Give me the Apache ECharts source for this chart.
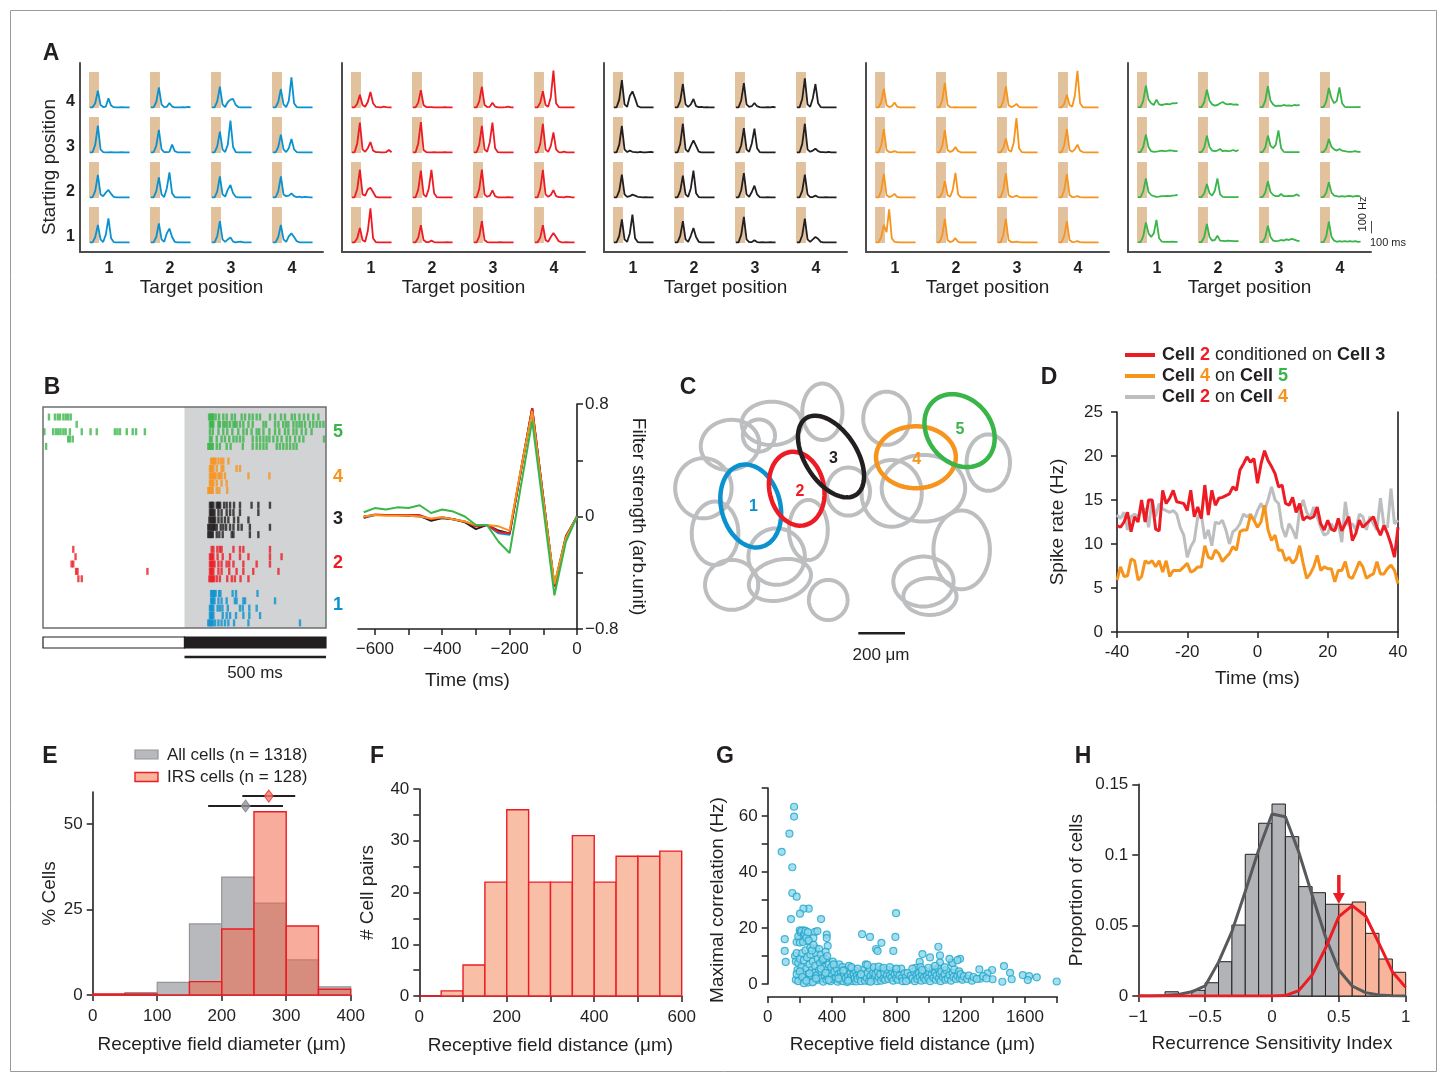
<!DOCTYPE html>
<html><head><meta charset="utf-8">
<script src="https://cdn.jsdelivr.net/npm/echarts@6/dist/echarts.min.js"></script>
<style>html,body{margin:0;padding:0;background:#fff}#c{width:1446px;height:1082px}</style>
</head><body><div id="c"></div>
<script>
// ================= DATA =================
// Panel A: mean response traces (Hz), 16 samples each; order row4 c1..c4, row3 ..., row1
const A_BLUE = [
 [6,6,40,145,25,8,12,80,20,7,6,6,7,6,6,6],[6,6,50,172,30,8,10,42,12,6,6,6,8,6,10,6],[6,6,55,178,30,8,50,70,75,25,8,6,6,6,6,6],[6,6,50,158,30,8,60,256,40,8,6,6,6,6,6,6],
 [6,6,70,228,30,8,6,6,8,6,6,6,8,6,6,6],[6,6,60,192,30,8,8,10,70,15,6,6,6,6,6,6],[6,6,55,178,30,8,70,270,50,8,6,6,6,6,6,6],[6,6,50,153,30,8,40,117,30,8,6,6,6,6,6,6],
 [6,6,60,192,30,15,45,67,35,10,6,6,6,6,6,6],[6,6,55,172,30,8,80,214,40,8,6,6,6,6,6,6],[6,6,55,181,30,12,70,108,40,10,6,6,6,6,6,6],[6,6,55,181,30,15,20,39,15,8,12,6,10,8,6,6],
 [6,6,50,150,30,8,70,206,40,8,6,6,6,6,6,6],[6,6,50,164,30,10,80,120,50,10,6,6,6,6,6,6],[6,6,55,183,30,10,30,45,12,6,10,12,6,6,6,6],[6,6,50,150,30,10,55,80,50,15,6,6,6,6,6,6]];
const A_RED = [
 [6,6,35,111,25,10,50,134,40,10,8,6,12,8,6,6],[6,6,45,149,25,8,8,8,6,6,6,6,8,6,6,6],[6,6,55,177,25,8,10,43,12,6,6,6,8,12,6,6],[6,6,45,140,25,10,90,312,40,8,6,6,6,6,6,6],
 [6,6,80,254,30,10,40,91,20,8,8,6,6,8,25,6],[6,6,80,257,25,8,6,6,8,6,6,6,8,6,6,6],[6,6,70,226,30,10,90,254,40,8,6,6,6,6,6,6],[6,6,75,243,30,10,60,171,30,8,6,12,6,6,6,6],
 [6,6,75,237,30,20,70,86,50,10,6,6,6,6,6,6],[6,6,70,229,30,10,80,234,40,8,6,6,6,6,6,6],[6,6,75,237,30,10,20,63,15,6,6,6,6,8,6,6],[6,6,75,234,30,10,25,66,15,8,8,6,12,10,6,6],
 [6,6,40,126,25,10,100,289,40,8,6,6,6,6,6,6],[6,6,45,149,25,8,8,20,8,6,6,6,6,8,6,6],[6,6,55,183,25,8,6,6,6,6,8,6,6,6,6,6],[6,6,45,149,25,10,50,83,50,15,6,6,8,6,6,6]];
const A_BLACK = [
 [6,6,70,233,30,10,100,139,80,15,6,6,6,6,6,6],[6,6,60,200,30,10,30,75,15,8,10,6,8,6,6,6],[6,6,65,208,30,10,15,42,15,8,6,6,8,6,10,6],[6,6,75,247,30,10,80,200,40,8,6,6,6,6,6,6],
 [6,6,70,225,30,8,20,10,8,6,10,6,6,8,10,6],[6,6,75,244,30,10,60,106,60,12,6,6,6,6,6,6],[6,6,65,208,30,10,80,203,40,8,6,6,6,6,6,6],[6,6,75,244,30,10,20,36,15,8,8,6,10,6,6,6],
 [6,6,60,194,30,10,15,28,20,10,8,6,8,6,6,6],[6,6,60,186,30,10,80,228,40,8,6,6,6,6,6,6],[6,6,65,208,30,10,50,103,30,8,6,6,8,6,6,6],[6,6,60,194,30,8,8,20,8,6,6,8,6,6,6,6],
 [6,6,60,197,30,10,80,236,40,8,6,6,6,6,6,6],[6,6,60,183,30,10,60,125,50,10,6,6,6,6,6,6],[6,6,70,217,30,8,8,22,8,6,8,6,6,8,6,6],[6,6,65,203,30,10,30,50,35,10,6,6,6,6,6,6]];
const A_ORANGE = [
 [6,6,50,160,25,8,15,45,12,6,6,6,6,6,6,6],[6,6,65,210,25,8,6,8,6,6,6,6,6,6,6,6],[6,6,55,180,25,8,15,35,10,6,6,6,6,6,6,6],[6,6,35,110,25,10,100,310,40,8,6,6,6,6,6,6],
 [6,6,65,200,25,8,8,15,8,6,6,6,6,6,6,6],[6,6,60,190,25,8,20,50,15,6,6,6,6,6,6,6],[6,6,40,120,25,10,90,290,40,8,6,6,6,6,6,6],[6,6,65,200,25,10,30,70,20,8,6,6,6,6,6,6],
 [6,6,65,200,25,8,15,35,10,6,6,6,6,6,6,6],[6,6,45,140,25,10,70,210,30,8,6,6,6,6,6,6],[6,6,65,205,25,8,10,20,8,6,6,6,6,6,6,6],[6,6,65,200,25,8,10,15,8,6,6,6,6,6,6,6],
 [6,6,50,150,90,280,40,10,8,6,6,6,6,6,6,6],[6,6,65,200,25,8,15,40,10,6,6,6,6,6,6,6],[6,6,65,200,25,8,8,12,8,6,6,6,6,6,6,6],[6,6,60,180,25,8,10,15,8,6,6,6,6,6,6,6]];
const A_GREEN = [
 [8,8,60,186,70,40,25,70,30,25,30,35,30,40,38,42],[8,8,50,153,60,30,20,25,40,50,35,30,35,28,30,25],[8,8,60,181,60,30,15,20,18,25,20,22,18,25,22,25],[8,8,55,167,80,40,60,172,40,10,8,8,8,8,8,10],
 [8,8,50,153,50,15,10,12,15,20,15,18,22,20,15,15],[8,8,45,145,50,20,15,20,33,15,20,15,18,25,15,25],[8,8,45,145,60,40,70,189,40,10,8,8,8,8,8,8],[8,8,40,117,50,30,20,33,20,15,12,10,12,15,10,10],
 [8,8,55,164,50,25,15,10,12,15,15,18,15,20,22,25],[8,8,40,117,40,20,60,164,30,10,8,8,8,8,8,10],[8,8,45,139,50,25,15,15,33,15,15,18,15,20,30,15],[8,8,45,131,45,20,15,12,15,12,15,18,12,15,18,12],
 [8,8,55,172,80,50,80,192,40,12,10,10,10,12,10,10],[8,8,50,158,50,20,25,61,20,18,15,20,18,15,15,15],[8,8,45,145,50,20,15,18,25,20,30,25,35,28,20,15],[8,8,55,178,50,20,10,15,12,15,12,15,12,15,10,12]];
const A_TICKS = ['1','2','3','4'];

// Panel B raster: spike times (ms, stimulus at 500) per trial
const B_GREEN = [
 [21,42,52,60,72,81,89,98,587,591,595,599,602,610,622,637,649,667,678,702,714,729,741,755,767,802,820,841,855,879,890,906,922,937,955,973],
 [119,590,594,598,602,620,625,637,643,651,661,673,678,684,696,708,726,741,779,788,820,832,849,859,867,885,896,906,914,926,943,955,967,979,991],
 [5,36,46,54,62,72,80,95,137,168,190,254,263,272,296,317,329,360,590,600,620,637,651,669,690,708,720,737,755,764,779,800,820,835,855,867,885,896,914,929,949],
 [89,95,105,590,596,614,631,643,658,673,684,696,708,741,755,767,779,790,800,814,828,843,861,873,891,906,920,993],
 [11,584,588,592,596,600,614,625,649,663,706,741,755,767,779,790,826,837,849,861,873,885,896]];
const B_ORANGE = [
 [594,598,602,606,610,620,629,637,655],[590,594,598,602,614,631,637,684,696],[590,594,598,602,606,610,620,625,631,643,726,800],
 [590,594,598,602,614,631,649],[584,588,592,596,600,614,623,651]];
const B_BLACK = [
 [590,594,598,602,614,618,622,626,640,649,661,675,696,737,761,802],[590,594,598,602,606,620,631,649,661,673,696,761],
 [588,592,596,600,604,608,620,631,643,655,675,690,726],[584,588,592,596,600,604,608,614,628,637,647,661,673,690,702,731,802],
 [584,588,592,596,600,614,623,635,667,673,731,761]];
const B_RED = [
 [107,596,602,616,625,631,673,696,708,802],[115,590,594,598,602,617,635,661,696,726,802,843],
 [101,107,590,594,598,602,606,620,631,649,658,673,708,755,802],[117,122,369,590,594,598,602,620,631,658,684,708,743,832],
 [125,137,588,592,596,600,604,614,625,651,667,678,698,726]];
const B_BLUE = [
 [594,598,602,606,610,622,627,670,682,758],[594,598,602,606,620,631,649,678,684,708,714,820],
 [590,594,598,602,617,625,634,653,696,706,729,755],[590,594,598,602,635,649,661,682,708,729,767],
 [584,588,592,596,600,608,620,631,643,655,675,726,908]];

// Panel B filters
const B_FILTER_T = [-633,-600,-567,-533,-500,-467,-433,-400,-367,-333,-300,-267,-233,-200,-167,-133,-100,-67,-33,0];
const F_BLUE  = [-0.01,0.01,0.01,0.01,0.005,0,-0.02,-0.01,-0.02,-0.04,-0.07,-0.06,-0.12,-0.13,0.32,0.76,0.13,-0.5,-0.16,0];
const F_BLACK = [0,0.01,0.01,0.01,0.005,0.005,-0.03,-0.01,-0.02,-0.04,-0.09,-0.06,-0.1,-0.12,0.32,0.77,0.13,-0.49,-0.14,0];
const F_RED   = [-0.01,0.015,0.01,0.01,0.01,0.01,-0.02,-0.005,-0.02,-0.035,-0.07,-0.06,-0.11,-0.12,0.32,0.77,0.13,-0.5,-0.15,0];
const F_ORANGE= [0,0.01,0.005,0.005,0.005,0,-0.015,-0.005,-0.02,-0.035,-0.06,-0.06,-0.07,-0.1,0.33,0.75,0.12,-0.48,-0.15,0];
const F_GREEN = [0.03,0.06,0.05,0.065,0.06,0.08,0.025,0.05,0.035,0,-0.06,-0.06,-0.18,-0.26,0.21,0.68,0.06,-0.56,-0.18,0];

// Panel C: receptive field ellipses [cx, cy, rx, ry, rotation deg] in µm
const C_GRAY = [
 [696,179,86,121,0],[479,229,129,93,0],[424,281,69,69,0],[300,321,126,107,-10],[186,507,121,129,0],
 [236,700,100,136,0],[307,921,114,107,0],[500,800,121,121,0],[514,900,136,86,-15],[636,686,83,129,0],
 [721,986,83,86,0],[807,521,93,103,0],[971,207,100,114,0],[993,529,129,143,0],[1129,507,179,143,0],
 [1407,397,93,121,0],[1293,771,121,169,0],[1129,907,129,107,0],[1157,971,114,79,0]];
const C_CELLS = [
 [389,583,126,181,-15],[586,509,117,160,-12],[733,371,111,196,-33],[1097,374,171,133,0],[1284,260,136,169,-40]];
const C_LABELS = ['1','2','3','4','5'];
const C_LABEL_POS = [[400,586],[600,521],[743,379],[1100,386],[1286,254]];

// Panel D: conditioned spike rate (Hz), t = -40..40 ms
const D_RED = [12.1,11.9,12.5,13.6,11.4,13.1,12.5,15,12.5,15, 15,11.7,11.5,16.1,14.6,15.2,16.1,14.8,14.7,14.6,
 13.8,16.1,13.1,14.2,12.9,16.7,13.3,16.1,14.4,15.2, 15.3,15.5,15.7,16.5,16.1,18.4,19.1,19.9,19.3,19.7,
 16.9,19.1,20.6,19.5,18.8,18,16.5,16.7,14.6,14.4, 15.3,13.6,14.6,12.7,13.1,12.9,13.1,14.2,12.3,11.6,
 12.7,11.7,11.5,12.9,11.5,12.3,13.1,10.4,11.2,12.7, 11.9,12.3,12.7,13.1,11.9,11,12.1,11.2,10,8.5, 11.9];
const D_ORANGE = [5.9,7.4,6.3,6.4,8.3,8.1,5.9,6.3,8.1,7.8, 8.1,7.4,8.1,6.8,8.1,6.3,7,7,7,7.4,
 7.8,6.8,7,7.4,7.4,9.8,8.5,8.3,9.3,8.9, 8,8.5,8.9,9.7,9.3,11.4,11.6,11.6,13.3,12.7,
 11.9,12.5,14.4,11.6,10.4,11,9.3,9.3,8.1,8.5, 7.8,8.3,9.8,7.8,6.1,6.6,7.4,8.7,7,7.4,
 7.2,7.2,5.7,7,7,8,6.3,6.1,7,8, 7.4,6.1,6.4,6.6,8,6.6,6.6,7.2,7.6,7, 5.5];
const D_GRAY = [13.3,12.9,13.6,11.6,13.1,13.4,13.1,13.8,14,11.9, 15,13.1,14.6,14,13.8,13.6,13.8,13.4,11.9,11,
 8.5,9.7,10.4,13.1,13.4,10.6,11.6,9.8,12.5,12.3, 12.7,11.6,10,11.4,11.7,12.3,13.4,13.1,13.4,12.7,
 13.8,14.6,13.8,15,16.5,15,14.6,11.9,10.8,12.3, 11.6,10.6,13.8,15,13.6,12.9,14.2,13.1,11.9,11,
 11.2,12.3,11.6,12.3,10.2,14.8,12.1,12.3,11.6,13.4, 13.1,11.6,13.1,12.3,11.6,15.2,12.1,11.9,16.3,12.3, 12.7];

// Panel E: % cells per 50 µm bin
const E_BIN_LEFT = [0,50,100,150,200,250,300,350];
const E_ALL = [0.2,0.7,3.7,20.8,34.5,26.9,10.3,2.4];
const E_IRS = [0.3,0.3,0,3.9,19.3,53.6,20.2,1.7];
const E_MEAN_ALL = [237,179,295,55.3];   // mean, low, high, drawn at height
const E_MEAN_IRS = [273,232,314,58.2];

// Panel F: # cell pairs per 50 µm bin
const F_BIN_LEFT = [0,50,100,150,200,250,300,350,400,450,500,550];
const F_COUNTS = [0,1,6,22,36,22,22,31,22,27,27,28];

// Panel G: [distance µm, maximal correlation Hz]
const G_POINTS = [
 [87,47.2],[135,53.7],[164,63.3],[164,59.8],[153,41.7],[153,32.5],[180,31.2],[145,23.2],[332,23.2],[106,16],[106,11.8],[112,7.9],
 [195,16],[199,19.2],[222,19.2],[222,15.9],[255,26.9],[222,26.9],[201,25.1],[294,18.6],[309,18.9],[247,15.4],[284,16.4],[301,12.7],
 [367,17.6],[367,16.4],[373,13.6],[587,17.8],[636,16.8],[707,14.7],[674,12.5],[683,11.8],[798,25.3],[794,16.8],[781,11.8],[962,10.7],
 [1009,9.5],[1061,13.3],[1071,10.2],[1071,7.6],[1196,9],[1144,7.6],[1469,6.4],[1507,4],[1517,1.7],[1586,3.2],[1625,2.8],[1673,2.4],
 [1797,0.9],[1459,0.8],[1617,1.4],[1395,5],[1316,5.2],[1366,3.8],[1398,1.7],[1320,1.9],[945,7.9],
 [170,10],[175,8],[180,11],[185,5],[190,7.5],[195,3],[200,9],[205,1.5],[210,6],[215,11],[220,4],[225,8.5],[230,2],[235,12],[240,5.5],
 [245,9.5],[250,0.5],[255,3.5],[260,7],[265,10.5],[270,2.5],[275,5],[280,8],[285,1],[290,4],[295,6.5],[300,11],[305,3],[310,9],
 [315,1.5],[320,5],[325,7.5],[330,2],[335,4.5],[340,8.5],[345,0.8],[350,6],[355,3],[360,9],[365,1.5],[370,5],[375,2.5],[380,7],
 [385,4],[390,1],[395,6],[400,3],[405,8],[410,1.8],[415,4.5],[420,6.5],[425,2.2],[430,5.5],[435,0.8],[440,3.5],[445,7],[450,1.5],
 [455,4],[460,2.8],[465,6],[470,1],[475,3.2],[480,5],[485,2],[490,4.5],[495,0.7],[500,3],[505,6.5],[510,1.5],[515,4],[520,2.5],
 [525,5.5],[530,1],[535,3.5],[540,2],[545,4.8],[550,0.9],[555,3],[560,1.8],[570,4.2],[575,2.5],[580,1],[590,5],[600,3],[605,1.2],
 [610,7],[615,2.2],[620,4],[630,1],[635,5.5],[640,2.8],[650,1.5],[655,4],[660,6],[665,2],[670,3.5],[680,1],[685,4.5],[690,2.5],
 [700,3.5],[705,1.2],[710,5.5],[720,2],[725,4],[730,1.5],[740,3],[745,5],[750,1.8],[760,3.2],[770,2.2],[775,4.5],[780,1.2],[790,3.5],
 [795,5.2],[800,2],[805,4],[810,1.5],[820,3],[830,5.5],[835,2.2],[840,1],[850,3.8],[860,2.5],[870,4],[880,1.5],[890,3],[900,2],
 [910,4.5],[915,1],[920,5.8],[925,3],[930,1.8],[940,4],[945,2.5],[950,6],[955,1.2],[960,3.5],[970,2.2],[975,4.8],[980,1.5],[990,3],
 [1000,2],[1005,4.2],[1010,1],[1020,3.5],[1025,5.2],[1030,2.2],[1040,4],[1045,1.5],[1050,3],[1060,5.5],[1065,2],[1070,3.8],[1075,1],
 [1080,4.5],[1090,2.5],[1100,3.5],[1105,1.5],[1110,5],[1120,2],[1130,3.2],[1140,1.2],[1150,4],[1155,2.5],[1160,5.2],[1170,1.8],
 [1180,3],[1190,4.5],[1195,2],[1200,3.5],[1210,1.5],[1220,2.8],[1240,1.8],[1250,3],[1270,1.2],[1280,2.5],[1300,1.8],[1340,2.8],[1360,2],
 [180,15],[190,17],[200,14.8],[205,18.5],[210,19],[220,15],[225,17.5],[230,18],[235,19],[240,16.5],[250,18.5],[255,15.5],[265,13],
 [275,12],[285,14],[320,12.5],[330,10.5],[345,9],[360,11.5],[370,10],[175,1.5],[180,3.5],[190,1],[200,4.5],[215,2.5],[225,0.3],
 [240,1.2],[260,3.8],[280,0.6],[300,2],[330,5.5],[360,4],[380,1.5],[410,7],[440,2],[470,4.8],[500,1.2],[520,6],[560,5.5],[580,3.5],
 [620,6.8],[640,0.8],[690,6.2],[720,5.8],[760,6],[800,5.5],[860,1],[900,5.5],[960,5],[1000,5.8],[1040,6.5],[1100,6],[1150,7.5],[1180,8.5],[1130,9]];

// Panel H: proportion of cells per 0.1 RSI bin
const H_BIN_LEFT = [-0.8,-0.7,-0.6,-0.5,-0.4,-0.3,-0.2,-0.1,0,0.1,0.2,0.3,0.4,0.5,0.6,0.7,0.8,0.9];
const H_PROP = [0.003,0,0.004,0.0094,0.0243,0.0503,0.1004,0.1224,0.136,0.1129,0.0775,0.0732,0.065,0.065,0.0666,0.0444,0.0262,0.0168];
const H_THRESHOLD = 0.5;
const H_ARROW = [0.0857, 0.0652];   // arrow from / to (proportion)
const H_FIT_X = [-1,-0.9,-0.8,-0.7,-0.6,-0.5,-0.4,-0.3,-0.2,-0.1,0,0.1,0.2,0.3,0.4,0.5,0.6,0.7,0.8,0.9,1];
const H_FIT_ALL = [0,0,0.0003,0.001,0.003,0.0071,0.024,0.0456,0.074,0.1035,0.129,0.127,0.102,0.0716,0.042,0.0184,0.0071,0.0024,0.0007,0.0002,0];
const H_FIT_IRS = [0,0,0,0,0,0,0,0,0,0,0,0.0003,0.0038,0.0149,0.0338,0.0562,0.064,0.0567,0.0373,0.0172,0.0061];

// ================= STYLE / HELPERS =================
const FONT = '"Liberation Sans", Arial, Helvetica, sans-serif';
const INK = '#231f20';
const C_BLUE = '#0a92cf', C_RED = '#ed1c24', C_BLACK = '#231f20', C_ORANGE = '#f7941d', C_GREEN = '#39b54a';
const CELL_COLORS = [C_BLUE, C_RED, C_BLACK, C_ORANGE, C_GREEN];

function merge(a, b) {
  const o = Object.assign({}, a);
  for (const k in b) {
    const v = b[k];
    if (v && typeof v === 'object' && !Array.isArray(v) && o[k] && typeof o[k] === 'object' && !Array.isArray(o[k])) o[k] = merge(o[k], v);
    else o[k] = v;
  }
  return o;
}
const grid = [], xAxis = [], yAxis = [], series = [], graphic = [];
function vAxis(gi, opt) {
  return merge({
    gridIndex: gi, type: 'value', splitLine: { show: false },
    axisLine: { show: true, onZero: false, lineStyle: { color: INK, width: 1.6 } },
    axisTick: { show: true, inside: false, length: 6, lineStyle: { color: INK, width: 1.5 } },
    axisLabel: { color: INK, fontSize: 17, fontFamily: FONT, margin: 10, formatter: v => String(v) },
    nameLocation: 'middle', nameTextStyle: { color: INK, fontSize: 19, fontFamily: FONT }
  }, opt);
}
function hidden(gi, opt) { return Object.assign({ gridIndex: gi, type: 'value', show: false, splitLine: { show: false } }, opt); }
function txt(x, y, text, o) {
  o = o || {};
  const style = { text: text, fill: o.color || INK, fontSize: o.size || 17, fontFamily: FONT, fontWeight: o.bold ? 'bold' : 'normal', align: o.align || 'center', verticalAlign: o.va || 'middle' };
  if (o.rich) style.rich = o.rich;
  graphic.push({ type: 'text', x: x, y: y, rotation: o.rot || 0, z: 100, style: style });
}
const minus = v => (v < 0 ? '\u2212' + Math.abs(v) : String(v));

// ================= PANEL A =================
const A_GROUPS = [A_BLUE, A_RED, A_BLACK, A_ORANGE, A_GREEN];
const A_DT = 22, A_X0 = 75, A_COL = 508.33, A_Y0 = 75, A_ROW = 375, A_SHADE_W = 83, A_SHADE_H = 300;
A_GROUPS.forEach((grp, g) => {
  const gi = grid.length;
  grid.push({ left: 80 + 262 * g, top: 63, width: 243, height: 189 });
  const xi = xAxis.length, yi = yAxis.length;
  xAxis.push(vAxis(gi, {
    min: 0, max: 2025, axisTick: { show: false }, axisLine: { lineStyle: { color: '#4d4d4f', width: 2 } },
    axisLabel: { customValues: A_TICKS.map((t, c) => A_X0 + 167 + c * A_COL), formatter: v => A_TICKS[Math.round((v - A_X0 - 167) / A_COL)], fontWeight: 'bold', fontSize: 16, margin: 9 },
    name: 'Target position', nameGap: 25, nameTextStyle: { fontSize: 19 }
  }));
  yAxis.push(vAxis(gi, {
    min: 0, max: 1575, axisTick: { show: false }, axisLine: { lineStyle: { color: '#4d4d4f', width: 2 } },
    axisLabel: g === 0 ? { customValues: A_TICKS.map((t, r) => A_Y0 + 50 + r * A_ROW), formatter: v => A_TICKS[Math.round((v - A_Y0 - 50) / A_ROW)], fontWeight: 'bold', fontSize: 16, margin: 5 } : { show: false }
  }));
  const shades = [], line = [];
  grp.forEach((tr, i) => {
    const r = 3 - Math.floor(i / 4), c = i % 4;
    const xs = A_X0 + c * A_COL, base = A_Y0 + r * A_ROW;
    shades.push([xs, base]);
    tr.forEach((v, k) => line.push([xs + 8 + k * A_DT, base + v]));
    line.push(['-', '-']);
  });
  series.push({
    type: 'custom', xAxisIndex: xi, yAxisIndex: yi, z: 1, silent: true, data: shades,
    renderItem: (p, api) => {
      const p0 = api.coord([api.value(0), api.value(1)]);
      const p1 = api.coord([api.value(0) + A_SHADE_W, api.value(1) + A_SHADE_H]);
      return { type: 'rect', shape: { x: p0[0], y: p1[1], width: p1[0] - p0[0], height: p0[1] - p1[1] }, style: { fill: '#e2c19d' } };
    }
  });
  series.push({ type: 'line', xAxisIndex: xi, yAxisIndex: yi, z: 3, data: line, showSymbol: false, connectNulls: false, silent: true,
    lineStyle: { color: CELL_COLORS[g], width: 1.8 } });
  if (g === 4) {
    series.push({ type: 'line', xAxisIndex: xi, yAxisIndex: yi, z: 3, clip: false, silent: true, showSymbol: false,
      data: [[2035, 258], [2035, 158], [2135, 158]], lineStyle: { color: INK, width: 2 } });
  }
});
txt(50, 167, 'Starting position', { size: 19, rot: Math.PI / 2 });
txt(1363, 214, '100 Hz', { size: 11, rot: Math.PI / 2 });
txt(1388, 243, '100 ms', { size: 11 });

// ================= PANEL B raster =================
{
  const gi = grid.length;
  grid.push({ left: 43, top: 407, width: 283, height: 221 });
  const xi = xAxis.length, yi = yAxis.length;
  xAxis.push(hidden(gi, { min: 0, max: 1000 }));
  yAxis.push(hidden(gi, { min: -1.36, max: 28.7, inverse: true }));
  series.push({ type: 'custom', xAxisIndex: xi, yAxisIndex: yi, z: 1, silent: true, data: [[500, 0]],
    renderItem: (p, api) => {
      const cs = p.coordSys; const x0 = api.coord([api.value(0), 0])[0];
      return { type: 'rect', shape: { x: x0, y: cs.y, width: cs.x + cs.width - x0, height: cs.height }, style: { fill: '#d1d3d4' } };
    } });
  const groups = [[B_GREEN, C_GREEN, 0], [B_ORANGE, C_ORANGE, 6], [B_BLACK, C_BLACK, 12], [B_RED, C_RED, 18], [B_BLUE, C_BLUE, 24]];
  groups.forEach(([trials, col, row0]) => {
    const d = [];
    trials.forEach((tr, j) => tr.forEach(t => d.push([t, row0 + j])));
    series.push({ type: 'scatter', xAxisIndex: xi, yAxisIndex: yi, z: 3, silent: true, data: d, symbol: 'rect', symbolSize: [2.4, 7], itemStyle: { color: col } });
  });
  series.push({ type: 'custom', xAxisIndex: xi, yAxisIndex: yi, z: 5, silent: true, data: [[0, 0]],
    renderItem: (p) => { const cs = p.coordSys; return { type: 'rect', shape: { x: cs.x, y: cs.y, width: cs.width, height: cs.height }, style: { fill: 'none', stroke: '#6d6e71', lineWidth: 1.5 } }; } });
  // stimulus bar + scale bar
  const g2 = grid.length;
  grid.push({ left: 43, top: 633, width: 283, height: 30 });
  const x2 = xAxis.length, y2 = yAxis.length;
  xAxis.push(hidden(g2, { min: 0, max: 1000 }));
  yAxis.push(hidden(g2, { min: 0, max: 30, inverse: true }));
  series.push({ type: 'custom', xAxisIndex: x2, yAxisIndex: y2, silent: true, data: [[0, 500, 0], [500, 1000, 1]],
    renderItem: (p, api) => {
      const a = api.coord([api.value(0), 4]), b = api.coord([api.value(1), 15]);
      return { type: 'rect', shape: { x: a[0], y: a[1], width: b[0] - a[0], height: b[1] - a[1] }, style: { fill: api.value(2) ? INK : '#fff', stroke: INK, lineWidth: 1.2 } };
    } });
  series.push({ type: 'line', xAxisIndex: x2, yAxisIndex: y2, silent: true, showSymbol: false, data: [[500, 24], [1000, 24]], lineStyle: { color: INK, width: 2.5 } });
  txt(255, 673, '500 ms', { size: 17 });
  [['5', C_GREEN, 432], ['4', C_ORANGE, 477], ['3', C_BLACK, 519], ['2', C_RED, 563], ['1', C_BLUE, 605]].forEach(([t, c, y]) => txt(338, y, t, { color: c, bold: true, size: 18 }));
}

// ================= PANEL B filters =================
{
  const gi = grid.length;
  grid.push({ left: 358, top: 404, width: 219, height: 225 });
  const xi = xAxis.length, yi = yAxis.length;
  xAxis.push(vAxis(gi, { min: -650, max: 0, axisTick: { customValues: [-600, -500, -400, -300, -200, -100, 0] },
    axisLabel: { customValues: [-600, -400, -200, 0], formatter: minus, margin: 12 }, name: 'Time (ms)', nameGap: 42 }));
  yAxis.push(vAxis(gi, { min: -0.8, max: 0.8, position: 'right', axisTick: { customValues: [-0.8, -0.4, 0, 0.4, 0.8] },
    axisLabel: { customValues: [-0.8, 0, 0.8], formatter: minus, margin: 8 }, name: 'Filter strength (arb.unit)', nameRotate: -90, nameGap: 52 }));
  [[F_BLUE, C_BLUE], [F_BLACK, C_BLACK], [F_RED, C_RED], [F_ORANGE, C_ORANGE], [F_GREEN, C_GREEN]].forEach(([vals, col]) => {
    series.push({ type: 'line', xAxisIndex: xi, yAxisIndex: yi, silent: true, showSymbol: false, data: B_FILTER_T.map((t, i) => [t, vals[i]]), lineStyle: { color: col, width: 2 } });
  });
}

// ================= PANEL C =================
{
  const gi = grid.length;
  grid.push({ left: 660, top: 370, width: 360, height: 310 });
  const xi = xAxis.length, yi = yAxis.length;
  xAxis.push(hidden(gi, { min: 0, max: 1543 }));
  yAxis.push(hidden(gi, { min: 0, max: 1329, inverse: true }));
  const ell = (colorFn, lw) => (p, api) => {
    const c = api.coord([api.value(0), api.value(1)]);
    const s = api.size([api.value(2), api.value(3)]);
    const a = api.value(4) * Math.PI / 180, pts = [];
    for (let k = 0; k < 90; k++) {
      const t = k / 90 * 2 * Math.PI, x = s[0] * Math.cos(t), y = s[1] * Math.sin(t);
      pts.push([c[0] + x * Math.cos(a) - y * Math.sin(a), c[1] + x * Math.sin(a) + y * Math.cos(a)]);
    }
    return { type: 'polygon', shape: { points: pts }, style: { fill: 'none', stroke: colorFn(p.dataIndex), lineWidth: lw } };
  };
  series.push({ type: 'custom', xAxisIndex: xi, yAxisIndex: yi, z: 2, silent: true, data: C_GRAY, renderItem: ell(() => '#bcbec0', 4) });
  series.push({ type: 'custom', xAxisIndex: xi, yAxisIndex: yi, z: 3, silent: true, data: C_CELLS, renderItem: ell(i => CELL_COLORS[i], 4.5) });
  series.push({ type: 'custom', xAxisIndex: xi, yAxisIndex: yi, z: 4, silent: true, data: C_LABEL_POS,
    renderItem: (p, api) => { const c = api.coord([api.value(0), api.value(1)]);
      return { type: 'text', x: c[0], y: c[1], style: { text: C_LABELS[p.dataIndex], fill: CELL_COLORS[p.dataIndex], fontSize: 16, fontWeight: 'bold', fontFamily: FONT, align: 'center', verticalAlign: 'middle' } }; } });
  series.push({ type: 'line', xAxisIndex: xi, yAxisIndex: yi, silent: true, showSymbol: false, data: [[850, 1129], [1050, 1129]], lineStyle: { color: INK, width: 2.5 } });
  txt(881, 655, '200 \u03bcm', { size: 17 });
}

// ================= PANEL D =================
{
  const gi = grid.length;
  grid.push({ left: 1117, top: 412, width: 281, height: 220 });
  const xi = xAxis.length, yi = yAxis.length;
  xAxis.push(vAxis(gi, { min: -40, max: 40, interval: 20, axisLabel: { margin: 12 }, name: 'Time (ms)', nameGap: 37 }));
  yAxis.push(vAxis(gi, { min: 0, max: 25, interval: 5, axisLabel: { margin: 14 }, name: 'Spike rate (Hz)', nameGap: 50 }));
  yAxis.push(vAxis(gi, { min: 0, max: 25, position: 'right', axisTick: { show: false }, axisLabel: { show: false } }));
  const T = []; for (let t = -40; t <= 40; t++) T.push(t);
  [[D_GRAY, '#bcbec0'], [D_ORANGE, C_ORANGE], [D_RED, C_RED]].forEach(([vals, col]) => {
    series.push({ type: 'line', xAxisIndex: xi, yAxisIndex: yi, silent: true, showSymbol: false, data: T.map((t, i) => [t, vals[i]]), lineStyle: { color: col, width: 3 } });
  });
  const fs = 18;
  const rich = { b: { fontWeight: 'bold', fontSize: fs, fontFamily: FONT, fill: INK }, r: { fontWeight: 'bold', fontSize: fs, fontFamily: FONT, fill: C_RED },
    o: { fontWeight: 'bold', fontSize: fs, fontFamily: FONT, fill: C_ORANGE }, g: { fontWeight: 'bold', fontSize: fs, fontFamily: FONT, fill: C_GREEN }, n: { fontSize: fs, fontFamily: FONT, fill: INK } };
  [[355, C_RED, '{b|Cell} {r|2} {n|conditioned on} {b|Cell 3}'], [376, C_ORANGE, '{b|Cell} {o|4} {n|on} {b|Cell} {g|5}'], [397, '#bcbec0', '{b|Cell} {r|2} {n|on} {b|Cell} {o|4}']].forEach(([y, col, t]) => {
    graphic.push({ type: 'line', shape: { x1: 1125, y1: y, x2: 1155, y2: y }, style: { stroke: col, lineWidth: 4 } });
    txt(1162, y, t, { align: 'left', rich: rich, size: fs });
  });
}

// ================= PANEL E =================
function histRender(fill, stroke, lw, width) {
  return (p, api) => {
    const a = api.coord([api.value(0), 0]), b = api.coord([api.value(0) + width, api.value(1)]);
    return { type: 'rect', shape: { x: a[0], y: b[1], width: b[0] - a[0], height: a[1] - b[1] }, style: { fill: fill, stroke: stroke, lineWidth: lw } };
  };
}
{
  const gi = grid.length;
  grid.push({ left: 92.7, top: 792, width: 258, height: 203 });
  const xi = xAxis.length, yi = yAxis.length;
  xAxis.push(vAxis(gi, { min: 0, max: 400, axisTick: { customValues: [0, 100, 200, 300, 400] }, axisLabel: { customValues: [0, 100, 200, 300, 400], margin: 13 }, name: 'Receptive field diameter (\u03bcm)', nameGap: 40 }));
  yAxis.push(vAxis(gi, { min: 0, max: 59.4, axisTick: { customValues: [0, 25, 50] }, axisLabel: { customValues: [0, 25, 50], margin: 10 }, name: '% Cells', nameGap: 33 }));
  series.push({ type: 'custom', xAxisIndex: xi, yAxisIndex: yi, z: 2, silent: true, data: E_BIN_LEFT.map((x, i) => [x, E_ALL[i]]), renderItem: histRender('#b7b9bc', '#939598', 1.2, 50) });
  series.push({ type: 'custom', xAxisIndex: xi, yAxisIndex: yi, z: 3, silent: true, data: E_BIN_LEFT.map((x, i) => [x, E_IRS[i]]), renderItem: histRender('rgba(242,105,75,0.55)', C_RED, 1.4, 50) });
  [[E_MEAN_ALL, '#939598', '#7f8184'], [E_MEAN_IRS, '#f47a6a', C_RED]].forEach(([m, fill, st]) => {
    series.push({ type: 'line', xAxisIndex: xi, yAxisIndex: yi, z: 4, silent: true, showSymbol: false, clip: false, data: [[m[1], m[3]], [m[2], m[3]]], lineStyle: { color: INK, width: 2 } });
    series.push({ type: 'scatter', xAxisIndex: xi, yAxisIndex: yi, z: 5, silent: true, clip: false, data: [[m[0], m[3]]], symbol: 'diamond', symbolSize: [9, 12], itemStyle: { color: fill, borderColor: st, borderWidth: 1 } });
  });
  graphic.push({ type: 'rect', shape: { x: 135, y: 750, width: 23, height: 9 }, style: { fill: '#b7b9bc', stroke: '#939598', lineWidth: 1.2 } });
  graphic.push({ type: 'rect', shape: { x: 135, y: 772.5, width: 23, height: 9 }, style: { fill: '#f7b59b', stroke: C_RED, lineWidth: 1.4 } });
  txt(167, 755, 'All cells (n = 1318)', { align: 'left', size: 17 });
  txt(167, 777, 'IRS cells (n = 128)', { align: 'left', size: 17 });
}

// ================= PANEL F =================
{
  const gi = grid.length;
  grid.push({ left: 419.3, top: 789, width: 262.4, height: 207 });
  const xi = xAxis.length, yi = yAxis.length;
  xAxis.push(vAxis(gi, { min: 0, max: 600, axisTick: { customValues: [0, 100, 200, 300, 400, 500, 600] }, axisLabel: { customValues: [0, 200, 400, 600], margin: 13 }, name: 'Receptive field distance (\u03bcm)', nameGap: 40 }));
  yAxis.push(vAxis(gi, { min: 0, max: 40, axisTick: { customValues: [0, 5, 10, 15, 20, 25, 30, 35, 40] }, axisLabel: { customValues: [0, 10, 20, 30, 40], margin: 10 }, name: '# Cell pairs', nameGap: 42 }));
  series.push({ type: 'custom', xAxisIndex: xi, yAxisIndex: yi, z: 2, silent: true, data: F_BIN_LEFT.map((x, i) => [x, F_COUNTS[i]]), renderItem: histRender('#f8bea6', C_RED, 1.4, 50) });
}

// ================= PANEL G =================
{
  const gi = grid.length;
  grid.push({ left: 767.7, top: 788, width: 289.5, height: 196 });
  const xi = xAxis.length, yi = yAxis.length;
  xAxis.push(vAxis(gi, { min: 0, max: 1800, offset: 13, axisTick: { customValues: [0, 200, 400, 600, 800, 1000, 1200, 1400, 1600, 1800] }, axisLabel: { customValues: [0, 400, 800, 1200, 1600], margin: 12 }, name: 'Receptive field distance (\u03bcm)', nameGap: 38 }));
  yAxis.push(vAxis(gi, { min: 0, max: 70, axisTick: { customValues: [0, 10, 20, 30, 40, 50, 60, 70] }, axisLabel: { customValues: [0, 20, 40, 60], margin: 10 } }));
  series.push({ type: 'scatter', xAxisIndex: xi, yAxisIndex: yi, silent: true, clip: false, data: G_POINTS, symbol: 'circle', symbolSize: 7, itemStyle: { color: '#8fd6ea', borderColor: '#1ea6cc', borderWidth: 1.2 } });
  txt(718, 900, 'Maximal correlation (Hz)', { size: 19, rot: Math.PI / 2 });
}

// ================= PANEL H =================
{
  const gi = grid.length;
  grid.push({ left: 1138.3, top: 784.3, width: 267.4, height: 211.7 });
  const xi = xAxis.length, yi = yAxis.length;
  xAxis.push(vAxis(gi, { min: -1, max: 1, axisTick: { customValues: [-1, -0.5, 0, 0.5, 1] }, axisLabel: { customValues: [-1, -0.5, 0, 0.5, 1], formatter: minus, margin: 13 }, name: 'Recurrence Sensitivity Index', nameGap: 38 }));
  yAxis.push(vAxis(gi, { min: 0, max: 0.15, axisTick: { customValues: [0, 0.05, 0.1, 0.15] }, axisLabel: { customValues: [0, 0.05, 0.1, 0.15], margin: 10 }, name: 'Proportion of cells', nameGap: 52 }));
  const gray = [], irs = [];
  H_BIN_LEFT.forEach((x, i) => (x >= H_THRESHOLD - 1e-9 ? irs : gray).push([x, H_PROP[i]]));
  series.push({ type: 'custom', xAxisIndex: xi, yAxisIndex: yi, z: 2, silent: true, data: gray, renderItem: histRender('#b1b3b6', INK, 1, 0.1) });
  series.push({ type: 'custom', xAxisIndex: xi, yAxisIndex: yi, z: 2, silent: true, data: irs, renderItem: histRender('#f8b59b', INK, 1, 0.1) });
  series.push({ type: 'line', xAxisIndex: xi, yAxisIndex: yi, z: 4, silent: true, showSymbol: false, data: H_FIT_X.map((x, i) => [x, H_FIT_ALL[i]]), lineStyle: { color: '#58595b', width: 3 } });
  series.push({ type: 'line', xAxisIndex: xi, yAxisIndex: yi, z: 5, silent: true, showSymbol: false, data: H_FIT_X.map((x, i) => [x, H_FIT_IRS[i]]), lineStyle: { color: C_RED, width: 3 } });
  // threshold arrow
  series.push({ type: 'custom', xAxisIndex: xi, yAxisIndex: yi, z: 6, silent: true, data: [[H_THRESHOLD, H_ARROW[0], H_ARROW[1]]],
    renderItem: (p, api) => {
      const a = api.coord([api.value(0), api.value(1)]), b = api.coord([api.value(0), api.value(2)]);
      const hl = 11, hw = 6;
      return { type: 'group', children: [
        { type: 'line', shape: { x1: a[0], y1: a[1], x2: b[0], y2: b[1] - hl + 2 }, style: { stroke: C_RED, lineWidth: 3.5 } },
        { type: 'polygon', shape: { points: [[b[0] - hw, b[1] - hl], [b[0] + hw, b[1] - hl], [b[0], b[1]]] }, style: { fill: C_RED } }
      ] };
    } });
}

// ================= panel letters & frame =================
[['A', 51, 54], ['B', 52, 388], ['C', 688, 388], ['D', 1049, 378], ['E', 50, 757], ['F', 377, 757], ['G', 725, 757], ['H', 1083, 757]].forEach(([t, x, y]) => txt(x, y, t, { bold: true, size: 23 }));
graphic.push({ type: 'rect', shape: { x: 10.5, y: 10.5, width: 1426, height: 1061 }, style: { fill: 'none', stroke: '#9a9a9a', lineWidth: 1 } });

const chart = echarts.init(document.getElementById('c'), null, { renderer: 'canvas', width: 1446, height: 1082 });
chart.setOption({ animation: false, backgroundColor: '#ffffff', textStyle: { fontFamily: FONT }, grid, xAxis, yAxis, series, graphic });
</script></body></html>
